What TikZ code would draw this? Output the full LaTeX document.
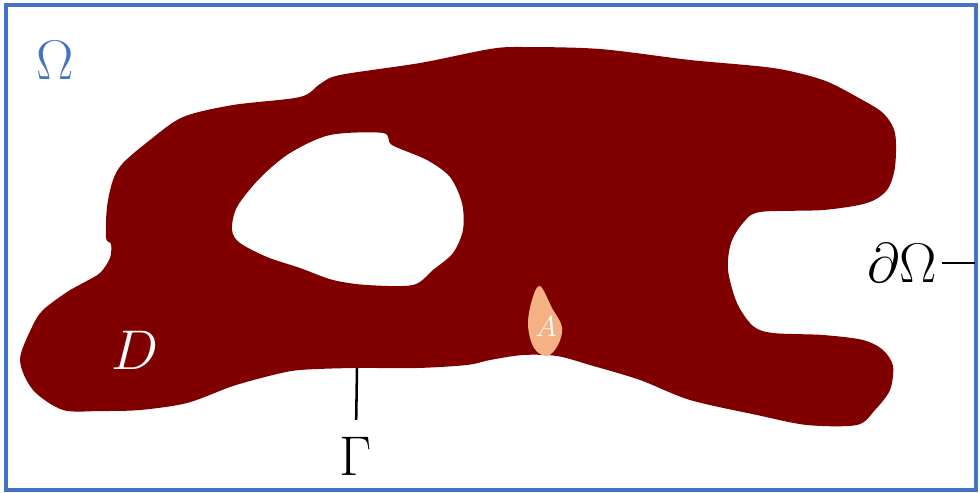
\documentclass[tikz,border=0pt]{standalone}
\usepackage{amsmath, amssymb}
\usetikzlibrary{positioning, calc}
\definecolor{omegablue}{RGB}{68, 114, 196}
\definecolor{domainred}{RGB}{128, 0, 0}
\definecolor{peach1}{RGB}{244, 177, 131}

\begin{document}
\begin{tikzpicture}[x=0.025cm, y=-0.025cm,
  biglabel/.style={inner sep=2pt, font=\Huge, scale=1.6},
  pointer/.style={black, line width=1.8pt}]
  \useasboundingbox (0,0) rectangle (980,493);

  % Outer domain
  \draw[omegablue, line width=2.8pt] (6,5) rectangle (976,490);
  \node[biglabel, text=omegablue] (omega) at (55,60) {$\Omega$};

  % Inclusion D with its hole
  \fill[domainred, even odd rule]
    plot[smooth cycle, tension=0.5] coordinates {
      (20,360) (33,390) (63,410) (100,411) (140,410) (187,403) (233,386)
      (273,375) (300,370) (353,368) (417,368) (467,365) (490,360) (523,355)
      (557,356) (590,365) (640,380) (690,400) (757,415) (807,425) (857,425)
      (875,410) (890,390) (893,366) (883,350) (863,340) (823,335) (773,333)
      (753,326) (737,303) (728,270) (731,243) (743,223) (760,212) (823,210)
      (867,203) (887,190) (895,167) (895,133) (883,113) (857,97) (823,80)
      (773,68) (690,60) (600,49) (523,47) (490,49) (420,63)
      (340,75) (320,84) (300,97) (233,105)
      (183,117) (150,140) (123,163) (113,180) (107,207) (106,238) (111,244)
      (110,258) (100,273) (83,283) (67,292) (43,310) (32,327)}
    plot[smooth cycle, tension=0.5] coordinates {
      (330,135) (383,133) (392,145) (427,160) (450,177) (462,203) (463,230)
      (453,253) (433,270) (413,285) (367,285) (333,280) (300,268) (267,257)
      (240,243) (232,230) (237,207) (260,178) (290,153)};

  % Subset A
  \fill[peach1] plot[smooth cycle, tension=0.6] coordinates {
    (540,286) (552,308) (562,327) (558,345) (547,356) (534,348) (528,325) (532,300)};
  \node[text=white, inner sep=0pt, font=\huge] (subA) at (546,327) {$A$};

  \node[biglabel, text=white] (domD) at (135,350) {$D$};

  % Interface and outer boundary
  \node[biglabel] (gamma) at (356,456) {$\Gamma$};
  \coordinate (gammatip) at (357,368);
  \draw[pointer, shorten <=0.3cm] (gamma.north) -- (gammatip);

  \node[biglabel] (bdry) at (902,263) {$\partial\Omega$};
  \coordinate (bdryend) at (975,263);
  \draw[pointer] (bdry.east) -- (bdryend);
\end{tikzpicture}
\end{document}
